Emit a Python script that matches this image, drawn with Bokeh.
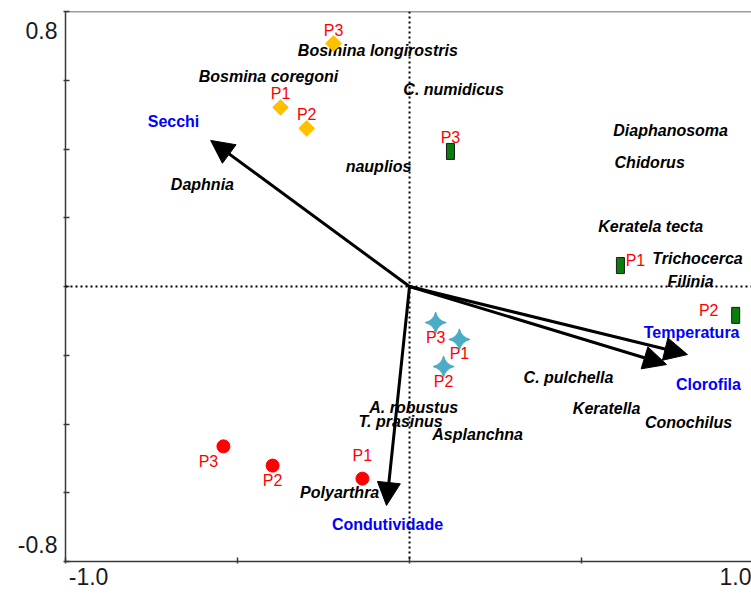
import numpy as np
from bokeh.plotting import figure
from bokeh.models import (ColumnDataSource, Span, Arrow, NormalHead,
                          FixedTicker, Range1d, LinearAxis,
                          CustomLabelingPolicy)
from bokeh.core.properties import value
from bokeh.embed import file_html
from bokeh.resources import INLINE

# ---------------- data (CCA scores) ----------------
sample_labels = ["P1", "P2", "P3"]

orange_x = [-0.375, -0.299, -0.221]
orange_y = [0.521, 0.460, 0.707]

green_x = [0.613, 0.948, 0.119]
green_y = [0.061, -0.084, 0.393]

cyan_x = [0.145, 0.099, 0.076]
cyan_y = [-0.154, -0.233, -0.105]

red_x = [-0.137, -0.398, -0.541]
red_y = [-0.559, -0.521, -0.465]

species_names = ["Bosmina longirostris", "Bosmina coregoni", "C. numidicus",
                 "Diaphanosoma", "Chidorus", "nauplios", "Daphnia",
                 "Keratela tecta", "Trichocerca", "Filinia", "C. pulchella",
                 "Keratella", "Conochilus", "A. robustus", "T. prasinus",
                 "Asplanchna", "Polyarthra"]
species_x = [-0.092, -0.410, 0.128, 0.759, 0.698, -0.090, -0.602,
             0.701, 0.837, 0.817, 0.462, 0.573, 0.811, 0.012, -0.026,
             0.198, -0.203]
species_y = [0.687, 0.611, 0.573, 0.454, 0.361, 0.349, 0.297,
             0.175, 0.081, 0.015, -0.265, -0.355, -0.396, -0.352, -0.393,
             -0.431, -0.599]

env_names = ["Secchi", "Temperatura", "Clorofila", "Condutividade"]
env_x = [-0.578, 0.808, 0.747, -0.067]
env_y = [0.425, -0.198, -0.227, -0.637]
env_label_x = [-0.686, 0.820, 0.869, -0.064]
env_label_y = [0.480, -0.134, -0.285, -0.692]

x_ticks = [-1.0, -0.5, 0.0, 0.5, 1.0]
y_ticks = [-0.8, -0.6, -0.4, -0.2, 0.0, 0.2, 0.4, 0.6, 0.8]
x_tick_text = ["-1.0", "1.0"]
y_tick_text = ["0.8", "-0.8"]

# ---------------- placement of tick texts (inward, as in original) -------
x_tick_text_pos = [-0.933, 0.955]
y_tick_text_pos = [0.745, -0.751]

# label offsets for the sample names (pixels)
orange_dx, orange_dy = [0, 0, 0], [-14, -14, -13]
green_dx, green_dy = [15, -27, 0], [-5, -5, -14]
cyan_dx, cyan_dy = [0, 0, 0], [14, 15, 15]
red_dx, red_dy = [0, 0, -15], [-23, 15, 15]

FONT = "Liberation Sans"
AX = "#3a3a3a"

p = figure(width=751, height=594,
           x_range=Range1d(-1.0, 0.994), y_range=Range1d(-0.8, 0.8),
           output_backend="svg", toolbar_location=None,
           min_border_left=65, min_border_top=11, min_border_right=0,
           min_border_bottom=33)
p.xgrid.visible = False
p.ygrid.visible = False
p.outline_line_color = None
p.background_fill_color = "white"

hide_all = CustomLabelingPolicy(code="""
    const all = [...indices]
    for (const i of all) indices.unset(i)
    return indices
""")

for ax, ticks in ((p.xaxis, x_ticks), (p.yaxis, y_ticks)):
    ax.ticker = FixedTicker(ticks=ticks)
    ax.major_label_text_font_size = "0px"
    ax.major_label_standoff = 0
    ax.major_label_policy = hide_all
    ax.major_tick_in = 4
    ax.major_tick_out = 2
    ax.minor_tick_line_color = None
    ax.minor_tick_in = 0
    ax.minor_tick_out = 0
    ax.axis_line_width = 1.5
    ax.axis_line_color = AX
    ax.major_tick_line_color = AX
    ax.major_tick_line_width = 1.5

# text-only axes carrying the end tick values
lab_x = LinearAxis(ticker=FixedTicker(ticks=x_tick_text_pos),
                   major_label_overrides={v: t for v, t in zip(x_tick_text_pos, x_tick_text)},
                   axis_line_color=None, major_tick_line_color=None,
                   minor_tick_line_color=None, major_tick_in=0,
                   major_tick_out=0, minor_tick_in=0, minor_tick_out=0,
                   major_label_standoff=4, major_label_text_font=FONT,
                   major_label_text_font_size="23px",
                   major_label_text_color="#1a1a1a")
p.add_layout(lab_x, "below")
lab_y = LinearAxis(ticker=FixedTicker(ticks=y_tick_text_pos),
                   major_label_overrides={v: t for v, t in zip(y_tick_text_pos, y_tick_text)},
                   axis_line_color=None, major_tick_line_color=None,
                   minor_tick_line_color=None, major_tick_in=0,
                   major_tick_out=0, minor_tick_in=0, minor_tick_out=0,
                   major_label_standoff=6, major_label_text_font=FONT,
                   major_label_text_font_size="23px",
                   major_label_text_color="#1a1a1a")
p.add_layout(lab_y, "left")

# top frame line
p.add_layout(Span(location=0.8, dimension="width", line_color=AX,
                  line_width=1.5))

# dotted zero lines
p.add_layout(Span(location=0, dimension="height", line_color="black",
                  line_width=2, line_dash="2 3"))
p.add_layout(Span(location=0, dimension="width", line_color="black",
                  line_width=2, line_dash="2 3"))

# species labels
sp = ColumnDataSource(dict(x=species_x, y=species_y, t=species_names))
p.text("x", "y", text="t", source=sp, text_align="center",
       text_baseline="middle", text_font=value(FONT), text_font_size="16px",
       text_font_style="bold italic", text_color="black")

# sample points
src_o = ColumnDataSource(dict(x=orange_x, y=orange_y, t=sample_labels,
                              dx=orange_dx, dy=orange_dy))
src_g = ColumnDataSource(dict(x=green_x, y=green_y, t=sample_labels,
                              dx=green_dx, dy=green_dy))
src_c = ColumnDataSource(dict(x=cyan_x, y=cyan_y, t=sample_labels,
                              dx=cyan_dx, dy=cyan_dy))
src_r = ColumnDataSource(dict(x=red_x, y=red_y, t=sample_labels,
                              dx=red_dx, dy=red_dy))

for s in (src_o, src_g, src_c, src_r):
    p.text("x", "y", text="t", source=s, x_offset="dx", y_offset="dy",
           text_align="center", text_baseline="middle",
           text_font=value(FONT), text_font_size="16px", text_color="#FF0000")

p.scatter("x", "y", source=src_o, marker="square", size=11, angle=np.pi / 4,
          fill_color="#FFC000", line_color="#FFC000")
p.rect("x", "y", width=8, height=16, width_units="screen",
       height_units="screen", source=src_g, fill_color="#0B7D0B",
       line_color="#1a1a1a", line_width=1)
p.scatter("x", "y", source=src_c, marker="square_pin", size=15,
          angle=np.pi / 4, fill_color="#4BACC6", line_color="#4BACC6")
p.scatter("x", "y", source=src_r, marker="circle", size=13,
          fill_color="#FF0000", line_color="#FF0000")

# environmental arrows
env_src = ColumnDataSource(dict(x0=[0.0] * len(env_x), y0=[0.0] * len(env_y),
                                x1=env_x, y1=env_y))
p.add_layout(Arrow(x_start="x0", y_start="y0", x_end="x1", y_end="y1",
                   source=env_src, line_width=3, line_color="black",
                   end=NormalHead(size=23, fill_color="black",
                                  line_color="black")))

env_lab = ColumnDataSource(dict(x=env_label_x, y=env_label_y, t=env_names))
p.text("x", "y", text="t", source=env_lab, text_align="center",
       text_baseline="middle", text_font=value(FONT), text_font_size="16px",
       text_font_style="bold", text_color="#0000FF")

open("out.html", "w").write(file_html(p, INLINE))
